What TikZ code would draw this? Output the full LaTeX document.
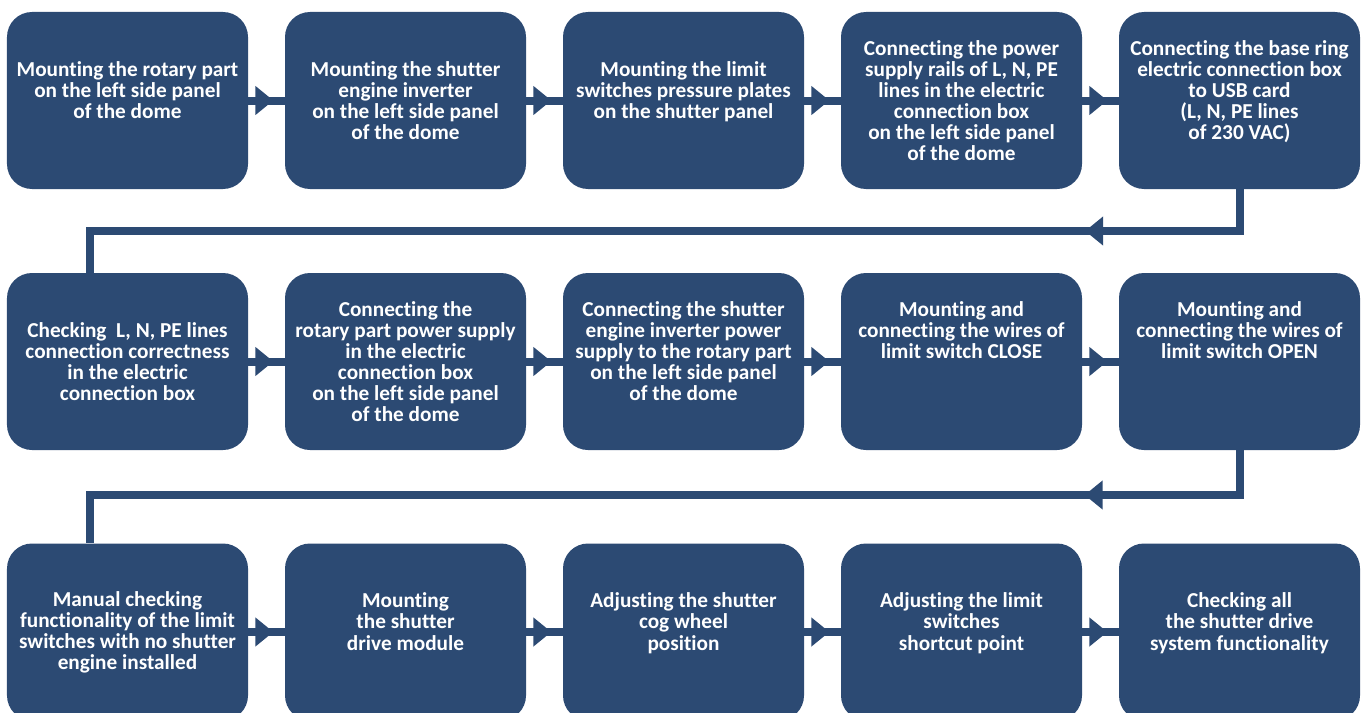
\documentclass[tikz,border=0pt]{standalone}
\usepackage{fontspec}
\setmainfont{Carlito}[Ligatures=NoCommon]
\usetikzlibrary{arrows.meta,decorations.markings}
\definecolor{boxblue}{RGB}{44,74,115}
\tikzset{
  task/.style={fill=boxblue, text=white, rounded corners=0.5cm, inner sep=0pt,
    minimum width=4.82cm, minimum height=3.54cm, align=center,
    font=\fontsize{12.1}{12}\selectfont\bfseries},
  link/.style={draw=boxblue, line width=0.16cm, postaction={decorate},
    decoration={markings, mark=at position #1 with {\arrow{Triangle[length=0.36cm,width=0.56cm]}}}},
}
\newcommand{\gap}{\\ \mbox{}}
\begin{document}
\begin{tikzpicture}
        \useasboundingbox (0,0) rectangle (27.36,-14.26);

        %first row
        \node[task] (task1) at (2.55,-2.01) {Mounting the rotary part\\on the left side panel\\of the dome\gap};
        \node[task] (task2) at (8.11,-2.01) {Mounting the shutter\\engine inverter\\on the left side panel\\of the dome};
        \node[task] (task3) at (13.67,-2.01) {Mounting the limit\\switches pressure plates\\on the shutter panel\gap};
        \node[task] (task4) at (19.23,-2.01) {Connecting the power\\supply rails of L, N, PE\\lines in the electric\\connection box\\on the left side panel\\of the dome};
        \node[task] (task5) at (24.79,-2.01) {Connecting the base ring\\electric connection box\\to USB card\\(L, N, PE lines\\of 230 VAC)\gap};

        %second row
        \node[task] (task6) at (2.55,-7.23) {Checking \ L, N, PE lines\\connection correctness\\in the electric\\connection box};
        \node[task] (task7) at (8.11,-7.23) {Connecting the\\rotary part power supply\\in the electric\\connection box\\on the left side panel\\of the dome};
        \node[task] (task8) at (13.67,-7.23) {Connecting the shutter\\engine inverter power\\supply to the rotary part\\on the left side panel\\of the dome\gap};
        \node[task] (task9) at (19.23,-7.23) {Mounting and\\connecting the wires of\\limit switch CLOSE\gap\gap\gap};
        \node[task] (task10) at (24.79,-7.23) {Mounting and\\connecting the wires of\\limit switch OPEN\gap\gap\gap};

        %third row
        \node[task] (task11) at (2.55,-12.64) {Manual checking\\functionality of the limit\\switches with no shutter\\engine installed};
        \node[task] (task12) at (8.11,-12.64) {Mounting\\the shutter\\drive module\gap};
        \node[task] (task13) at (13.67,-12.64) {Adjusting the shutter\\cog wheel\\position\gap};
        \node[task] (task14) at (19.23,-12.64) {Adjusting the limit\\switches\\shortcut point\gap};
        \node[task] (task15) at (24.79,-12.64) {Checking all\\the shutter drive\\system functionality\gap};

        \draw[link=0.5cm] (task1) -- (task2);
        \draw[link=0.5cm] (task2) -- (task3);
        \draw[link=0.5cm] (task3) -- (task4);
        \draw[link=0.5cm] (task4) -- (task5);

        \coordinate (turn1) at (24.79,-4.62);
        \coordinate (turn2) at (1.8,-4.62);
        \draw[link=3.92cm] (task5.south) -- (turn1) -- (turn2) -- (turn2 |- task6.north);

        \draw[link=0.5cm] (task6) -- (task7);
        \draw[link=0.5cm] (task7) -- (task8);
        \draw[link=0.5cm] (task8) -- (task9);
        \draw[link=0.5cm] (task9) -- (task10);

        \coordinate (turn3) at (24.79,-9.9);
        \coordinate (turn4) at (1.8,-9.9);
        \draw[link=3.99cm] (task10.south) -- (turn3) -- (turn4) -- (turn4 |- task11.north);

        \draw[link=0.5cm] (task11) -- (task12);
        \draw[link=0.5cm] (task12) -- (task13);
        \draw[link=0.5cm] (task13) -- (task14);
        \draw[link=0.5cm] (task14) -- (task15);
\end{tikzpicture}
\end{document}
